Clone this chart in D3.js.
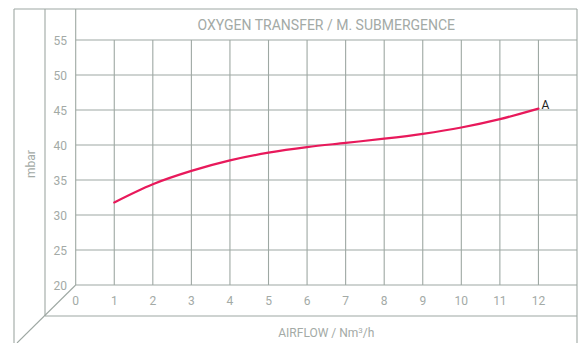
<!DOCTYPE html>
<html>
<head>
<meta charset="utf-8">
<script src="https://cdn.jsdelivr.net/npm/d3@7"></script>
<style>
  html, body { margin: 0; padding: 0; background: #fff; }
  svg { display: block; }
  text { font-family: Roboto, "DejaVu Sans Condensed", sans-serif; }
</style>
</head>
<body>
<svg id="chart" width="581" height="343"></svg>
<script>
// Airflow (Nm³/h) against pressure (mbar) for curve A
const airflow = [1, 2, 3, 4, 5, 6, 7, 8, 9, 10, 11, 12];
const pressure = [31.8, 34.4, 36.3, 37.8, 38.9, 39.7, 40.3, 40.9, 41.6, 42.5, 43.7, 45.2];
const xTicks = [0, 1, 2, 3, 4, 5, 6, 7, 8, 9, 10, 11, 12];
const yTicks = [20, 25, 30, 35, 40, 45, 50, 55];
const seriesName = "A";

const svg = d3.select("#chart");
const gridColor = "#9ea8a3";
const textColor = "#a3aaa6";

// Frame geometry
const outerL = 14, innerL = 45, plotL = 75.7, frameR = 577;
const frameT = 9, plotT = 40, plotB = 285, tickBandB = 316, frameB = 343;

const x = d3.scaleLinear().domain([0, 13]).range([plotL, frameR]);
const y = d3.scaleLinear().domain([20, 55]).range([plotB, plotT]);

const frame = svg.append("g")
  .attr("stroke", gridColor).attr("stroke-width", 1.1).attr("fill", "none");

// Horizontal gridlines
frame.selectAll("line.h").data(yTicks).join("line")
  .attr("class", "h")
  .attr("x1", plotL).attr("x2", frameR)
  .attr("y1", d => y(d)).attr("y2", d => y(d));

// Vertical gridlines
frame.selectAll("line.v").data(xTicks.slice(1)).join("line")
  .attr("class", "v")
  .attr("x1", d => x(d)).attr("x2", d => x(d))
  .attr("y1", plotT).attr("y2", plotB);

// Outer box and pseudo-3D edges
const edges = [
  [outerL, frameT, frameR, frameT],
  [outerL, frameT, outerL, frameB],
  [innerL, frameT, innerL, tickBandB],
  [plotL, frameT, plotL, plotB],
  [frameR, frameT, frameR, frameB],
  [innerL, tickBandB, frameR, tickBandB],
  [plotL, plotB, 17, frameB]
];
frame.selectAll("line.e").data(edges).join("line")
  .attr("class", "e")
  .attr("x1", d => d[0]).attr("y1", d => d[1])
  .attr("x2", d => d[2]).attr("y2", d => d[3]);

// Title
svg.append("text")
  .attr("x", (plotL + frameR) / 2).attr("y", 29.5)
  .attr("text-anchor", "middle")
  .attr("font-size", 14).attr("fill", textColor)
  .text("OXYGEN TRANSFER / M. SUBMERGENCE");

// Y tick labels
svg.append("g").selectAll("text").data(yTicks).join("text")
  .attr("x", 67).attr("y", d => y(d) + 4.5)
  .attr("text-anchor", "end")
  .attr("font-size", 12).attr("fill", textColor)
  .text(d => d);

// X tick labels
svg.append("g").selectAll("text").data(xTicks).join("text")
  .attr("x", d => x(d)).attr("y", 305)
  .attr("text-anchor", "middle")
  .attr("font-size", 12).attr("fill", textColor)
  .text(d => d);

// Axis titles
const xt = svg.append("text")
  .attr("x", (plotL + frameR) / 2).attr("y", 337)
  .attr("text-anchor", "middle")
  .attr("font-size", 12).attr("fill", textColor);
xt.append("tspan").text("AIRFLOW / Nm");
xt.append("tspan").attr("font-size", 8).attr("dy", -4).text("3");
xt.append("tspan").attr("dy", 4).text("/h");

svg.append("text")
  .attr("transform", `translate(${(outerL + innerL) / 2 + 5},${(plotT + plotB) / 2 + 1.5}) rotate(-90)`)
  .attr("text-anchor", "middle")
  .attr("font-size", 12).attr("fill", textColor)
  .text("mbar");

// Curve
const pts = airflow.map((a, i) => [a, pressure[i]]);
const line = d3.line()
  .x(d => x(d[0])).y(d => y(d[1]))
  .curve(d3.curveMonotoneX);
svg.append("path")
  .datum(pts)
  .attr("d", line)
  .attr("fill", "none")
  .attr("stroke", "#e8195b")
  .attr("stroke-width", 2.2)
  .attr("stroke-linecap", "round");

// Series label at the curve end
const last = pts[pts.length - 1];
svg.append("text")
  .attr("x", x(last[0]) + 3).attr("y", y(last[1]) + 0.5)
  .attr("font-size", 12).attr("fill", "#222")
  .text(seriesName);
</script>
</body>
</html>
